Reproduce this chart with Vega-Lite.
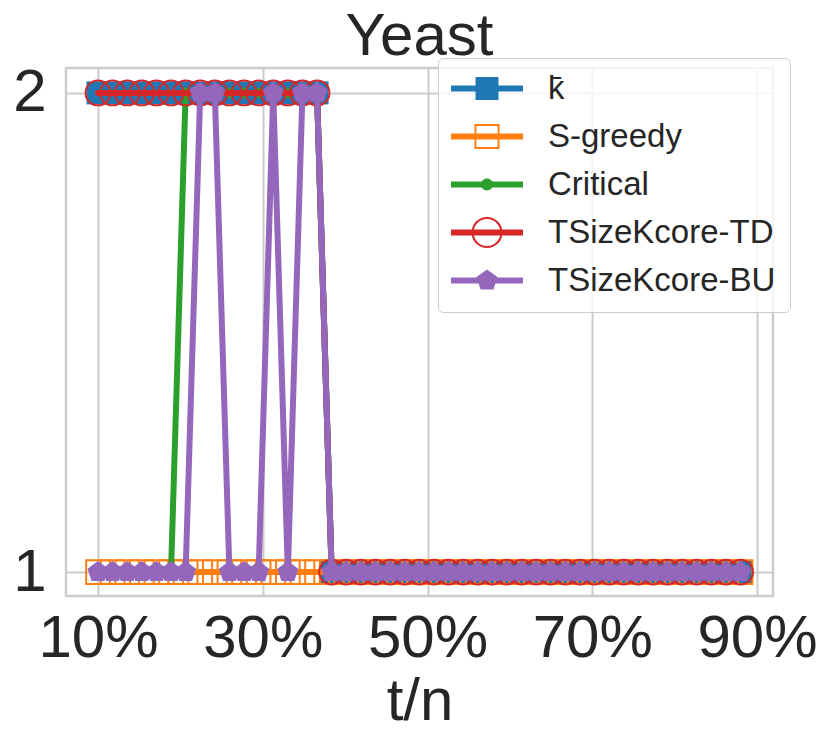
{
  "$schema": "https://vega.github.io/schema/vega-lite/v6.json",
  "width": 707,
  "height": 528,
  "autosize": {"type": "none"},
  "padding": {"left": 66, "top": 68, "right": 57, "bottom": 150},
  "title": {"text": "Yeast", "fontSize": 60, "font": "Liberation Sans", "fontWeight": "normal", "color": "#262626", "anchor": "middle", "offset": -10},
  "data": {
    "values": [
      {"t": 10, "kbar": 2, "sgreedy": 1, "critical": 1, "td": 2, "bu": 1},
      {"t": 11.773, "kbar": 2, "sgreedy": 1, "critical": 1, "td": 2, "bu": 1},
      {"t": 13.545, "kbar": 2, "sgreedy": 1, "critical": 1, "td": 2, "bu": 1},
      {"t": 15.318, "kbar": 2, "sgreedy": 1, "critical": 1, "td": 2, "bu": 1},
      {"t": 17.091, "kbar": 2, "sgreedy": 1, "critical": 1, "td": 2, "bu": 1},
      {"t": 18.864, "kbar": 2, "sgreedy": 1, "critical": 1, "td": 2, "bu": 1},
      {"t": 20.636, "kbar": 2, "sgreedy": 1, "critical": 2, "td": 2, "bu": 1},
      {"t": 22.409, "kbar": 2, "sgreedy": 1, "critical": 2, "td": 2, "bu": 2},
      {"t": 24.182, "kbar": 2, "sgreedy": 1, "critical": 2, "td": 2, "bu": 2},
      {"t": 25.955, "kbar": 2, "sgreedy": 1, "critical": 2, "td": 2, "bu": 1},
      {"t": 27.727, "kbar": 2, "sgreedy": 1, "critical": 2, "td": 2, "bu": 1},
      {"t": 29.5, "kbar": 2, "sgreedy": 1, "critical": 2, "td": 2, "bu": 1},
      {"t": 31.273, "kbar": 2, "sgreedy": 1, "critical": 2, "td": 2, "bu": 2},
      {"t": 33.045, "kbar": 2, "sgreedy": 1, "critical": 2, "td": 2, "bu": 1},
      {"t": 34.818, "kbar": 2, "sgreedy": 1, "critical": 2, "td": 2, "bu": 2},
      {"t": 36.591, "kbar": 2, "sgreedy": 1, "critical": 2, "td": 2, "bu": 2},
      {"t": 38.364, "kbar": 1, "sgreedy": 1, "critical": 1, "td": 1, "bu": 1},
      {"t": 40.136, "kbar": 1, "sgreedy": 1, "critical": 1, "td": 1, "bu": 1},
      {"t": 41.909, "kbar": 1, "sgreedy": 1, "critical": 1, "td": 1, "bu": 1},
      {"t": 43.682, "kbar": 1, "sgreedy": 1, "critical": 1, "td": 1, "bu": 1},
      {"t": 45.455, "kbar": 1, "sgreedy": 1, "critical": 1, "td": 1, "bu": 1},
      {"t": 47.227, "kbar": 1, "sgreedy": 1, "critical": 1, "td": 1, "bu": 1},
      {"t": 49, "kbar": 1, "sgreedy": 1, "critical": 1, "td": 1, "bu": 1},
      {"t": 50.773, "kbar": 1, "sgreedy": 1, "critical": 1, "td": 1, "bu": 1},
      {"t": 52.545, "kbar": 1, "sgreedy": 1, "critical": 1, "td": 1, "bu": 1},
      {"t": 54.318, "kbar": 1, "sgreedy": 1, "critical": 1, "td": 1, "bu": 1},
      {"t": 56.091, "kbar": 1, "sgreedy": 1, "critical": 1, "td": 1, "bu": 1},
      {"t": 57.864, "kbar": 1, "sgreedy": 1, "critical": 1, "td": 1, "bu": 1},
      {"t": 59.636, "kbar": 1, "sgreedy": 1, "critical": 1, "td": 1, "bu": 1},
      {"t": 61.409, "kbar": 1, "sgreedy": 1, "critical": 1, "td": 1, "bu": 1},
      {"t": 63.182, "kbar": 1, "sgreedy": 1, "critical": 1, "td": 1, "bu": 1},
      {"t": 64.955, "kbar": 1, "sgreedy": 1, "critical": 1, "td": 1, "bu": 1},
      {"t": 66.727, "kbar": 1, "sgreedy": 1, "critical": 1, "td": 1, "bu": 1},
      {"t": 68.5, "kbar": 1, "sgreedy": 1, "critical": 1, "td": 1, "bu": 1},
      {"t": 70.273, "kbar": 1, "sgreedy": 1, "critical": 1, "td": 1, "bu": 1},
      {"t": 72.045, "kbar": 1, "sgreedy": 1, "critical": 1, "td": 1, "bu": 1},
      {"t": 73.818, "kbar": 1, "sgreedy": 1, "critical": 1, "td": 1, "bu": 1},
      {"t": 75.591, "kbar": 1, "sgreedy": 1, "critical": 1, "td": 1, "bu": 1},
      {"t": 77.364, "kbar": 1, "sgreedy": 1, "critical": 1, "td": 1, "bu": 1},
      {"t": 79.136, "kbar": 1, "sgreedy": 1, "critical": 1, "td": 1, "bu": 1},
      {"t": 80.909, "kbar": 1, "sgreedy": 1, "critical": 1, "td": 1, "bu": 1},
      {"t": 82.682, "kbar": 1, "sgreedy": 1, "critical": 1, "td": 1, "bu": 1},
      {"t": 84.455, "kbar": 1, "sgreedy": 1, "critical": 1, "td": 1, "bu": 1},
      {"t": 86.227, "kbar": 1, "sgreedy": 1, "critical": 1, "td": 1, "bu": 1},
      {"t": 88, "kbar": 1, "sgreedy": 1, "critical": 1, "td": 1, "bu": 1}
    ]
  },
  "transform": [
    {"fold": ["kbar", "sgreedy", "critical", "td", "bu"], "as": ["method", "k"]}
  ],
  "encoding": {
    "x": {
      "field": "t", "type": "quantitative",
      "scale": {"domain": [6.115, 91.94], "nice": false, "zero": false},
      "axis": {"values": [10, 30, 50, 70, 90], "labelExpr": "datum.value + '%'", "title": "t/n"}
    },
    "y": {
      "field": "k", "type": "quantitative",
      "scale": {"domain": [0.95, 2.052], "nice": false, "zero": false},
      "axis": {"values": [1, 2], "format": "d", "title": null}
    }
  },
  "layer": [
    {
      "mark": {"type": "point", "filled": true, "opacity": 0},
      "encoding": {
        "color": {
          "field": "method", "type": "nominal",
          "scale": {"domain": ["kbar", "sgreedy", "critical", "td", "bu"], "range": ["#1f77b4", "#ff7f0e", "#2ca02c", "#d62728", "#9467bd"]},
          "legend": {
            "title": null,
            "labelExpr": "datum.label === 'kbar' ? 'k\u0304' : datum.label === 'sgreedy' ? 'S-greedy' : datum.label === 'critical' ? 'Critical' : datum.label === 'td' ? 'TSizeKcore-TD' : 'TSizeKcore-BU'"
          }
        },
        "shape": {
          "field": "method", "type": "nominal",
          "scale": {
            "domain": ["kbar", "sgreedy", "critical", "td", "bu"],
            "range": [
              "M-1.52,-0.26H4.74V0.26H-1.52Z M0.61,-1H2.61V1H0.61Z",
              "M-1.52,-0.26H4.74V0.26H-1.52Z M0.52,-1.09H2.7V1.09H0.52Z M0.69,-0.92V0.92H2.53V-0.92Z",
              "M-1.52,-0.26H4.74V0.26H-1.52Z M1.09,0A0.52,0.52 0 1,1 2.13,0A0.52,0.52 0 1,1 1.09,0Z",
              "M-1.52,-0.26H4.74V0.26H-1.52Z M0.26,0A1.35,1.35 0 1,1 2.96,0A1.35,1.35 0 1,1 0.26,0Z M0.44,0A1.17,1.17 0 1,0 2.78,0A1.17,1.17 0 1,0 0.44,0Z",
              "M-1.52,-0.26H4.74V0.26H-1.52Z M1.61,-0.96L2.52,-0.3L2.17,0.78L1.05,0.78L0.7,-0.3Z"
            ]
          },
          "legend": {
            "title": null,
            "labelExpr": "datum.label === 'kbar' ? 'k\u0304' : datum.label === 'sgreedy' ? 'S-greedy' : datum.label === 'critical' ? 'Critical' : datum.label === 'td' ? 'TSizeKcore-TD' : 'TSizeKcore-BU'"
          }
        }
      }
    },
    {
      "transform": [{"filter": "datum.method === 'kbar'"}],
      "mark": {"type": "line", "color": "#1f77b4", "strokeWidth": 6, "strokeCap": "round"}
    },
    {
      "transform": [{"filter": "datum.method === 'kbar'"}],
      "mark": {"type": "point", "shape": "square", "filled": true, "size": 529, "color": "#1f77b4", "opacity": 1}
    },
    {
      "transform": [{"filter": "datum.method === 'sgreedy'"}],
      "mark": {"type": "line", "color": "#ff7f0e", "strokeWidth": 6, "strokeCap": "round"}
    },
    {
      "transform": [{"filter": "datum.method === 'sgreedy'"}],
      "mark": {"type": "point", "shape": "square", "filled": false, "size": 562, "color": "#ff7f0e", "strokeWidth": 2, "opacity": 1}
    },
    {
      "transform": [{"filter": "datum.method === 'critical'"}],
      "mark": {"type": "line", "color": "#2ca02c", "strokeWidth": 6, "strokeCap": "round"}
    },
    {
      "transform": [{"filter": "datum.method === 'critical'"}],
      "mark": {"type": "point", "shape": "circle", "filled": true, "size": 113, "color": "#2ca02c", "opacity": 1}
    },
    {
      "transform": [{"filter": "datum.method === 'td'"}],
      "mark": {"type": "line", "color": "#d62728", "strokeWidth": 6, "strokeCap": "round"}
    },
    {
      "transform": [{"filter": "datum.method === 'td'"}],
      "mark": {"type": "point", "shape": "circle", "filled": false, "size": 616, "color": "#d62728", "strokeWidth": 2, "opacity": 1}
    },
    {
      "transform": [{"filter": "datum.method === 'bu'"}],
      "mark": {"type": "line", "color": "#9467bd", "strokeWidth": 6, "strokeCap": "round"}
    },
    {
      "transform": [{"filter": "datum.method === 'bu'"}],
      "mark": {"type": "point", "shape": "M0,-1L0.951,-0.309L0.588,0.809L-0.588,0.809L-0.951,-0.309Z", "filled": true, "size": 484, "color": "#9467bd", "opacity": 1}
    }
  ],
  "config": {
    "font": "Liberation Sans",
    "view": {"stroke": "#cccccc", "strokeWidth": 2.5},
    "axis": {
      "domain": false, "ticks": false, "tickSize": 0,
      "grid": true, "gridColor": "#cccccc", "gridWidth": 2,
      "labelFont": "Liberation Sans", "labelFontSize": 60, "labelColor": "#262626",
      "titleFont": "Liberation Sans", "titleFontSize": 60, "titleColor": "#262626", "titleFontWeight": "normal"
    },
    "axisX": {"labelPadding": 13, "titlePadding": 4, "labelFlush": false},
    "axisY": {"labelPadding": 20},
    "legend": {
      "orient": "none", "legendX": 372, "legendY": -10,
      "padding": 14, "rowPadding": 14, "labelOffset": 63,
      "symbolSize": 529, "symbolStrokeWidth": 0, "symbolOpacity": 1,
      "labelFont": "Liberation Sans", "labelFontSize": 33, "labelColor": "#262626", "labelLimit": 0,
      "fillColor": "rgba(255,255,255,0.8)", "strokeColor": "#cccccc", "cornerRadius": 5
    }
  }
}
